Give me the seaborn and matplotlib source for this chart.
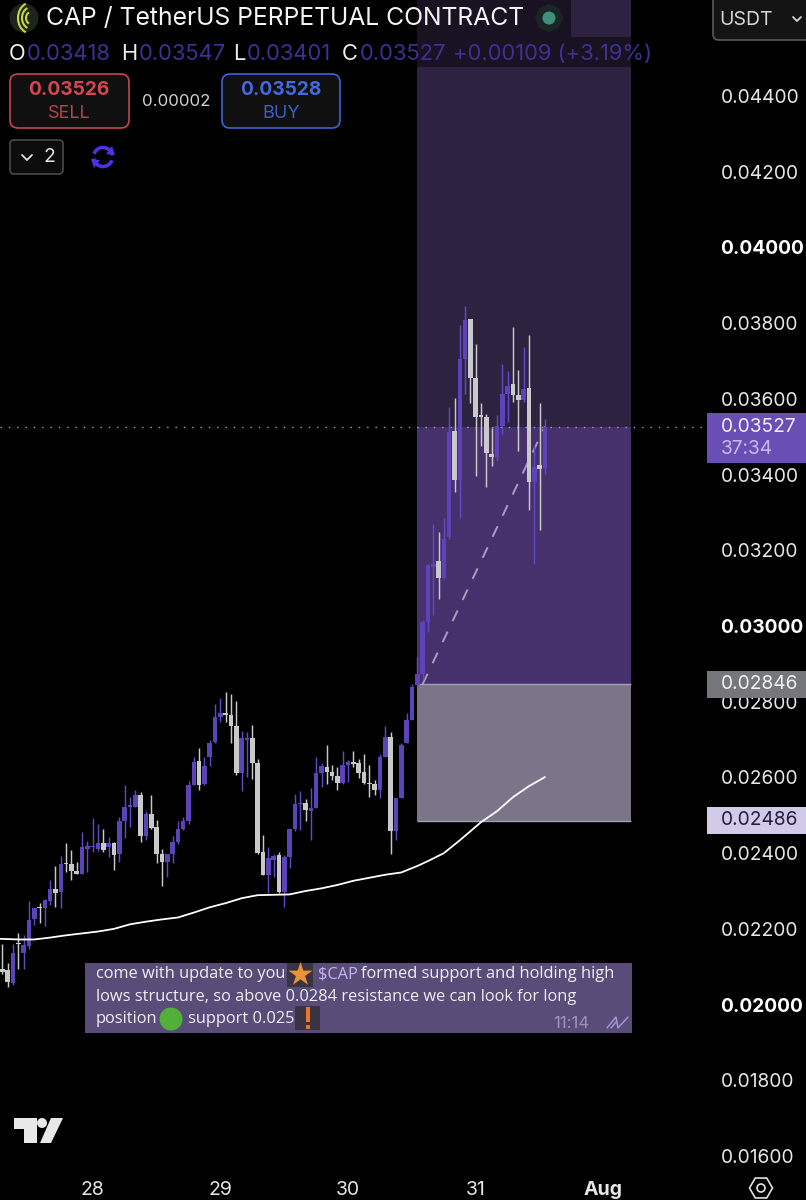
import numpy as np
import pandas as pd
import matplotlib
matplotlib.use("Agg")
import matplotlib.pyplot as plt
from matplotlib.patches import Rectangle, FancyBboxPatch, Circle, Polygon, RegularPolygon, Arc
import seaborn as sns

# hourly candles, prices in units of 0.00001 USDT
opens = [2095,2091,2057,2163,2137,2154,2225,2257,2254,2274,2304,2298,2374,2371,2353,2346,2412,2415,2410,2426,
         2415,2426,2397,2484,2521,2523,2553,2445,2503,2468,2399,2376,2399,2430,2463,2486,2580,2643,2582,2653,
         2694,2759,2769,2765,2736,2611,2700,2703,2637,2404,2342,2383,2395,2298,2390,2463,2530,2533,2512,2518,
         2611,2628,2615,2604,2586,2633,2641,2637,2615,2586,2582,2567,2655,2707,2459,2547,2690,2753,2843,2874,
         3011,3156,3172,3128,3234,3515,3385,3706,3812,3654,3557,3552,3455,3447,3528,3614,3639,3610,3598,3630,
         3381,3424,3418]
highs = [2161,2109,2161,2188,2183,2274,2254,2269,2280,2330,2366,2392,2427,2408,2377,2456,2432,2492,2478,2465,
         2443,2430,2496,2580,2549,2568,2562,2512,2553,2487,2412,2399,2445,2486,2496,2591,2653,2678,2655,2700,
         2793,2810,2826,2820,2803,2723,2721,2738,2650,2448,2417,2399,2404,2395,2465,2556,2565,2542,2571,2655,
         2637,2685,2633,2628,2670,2646,2670,2648,2661,2634,2593,2663,2736,2721,2547,2690,2769,2848,2918,3017,
         3165,3270,3249,3284,3579,3603,3795,3845,3812,3744,3588,3559,3524,3557,3693,3673,3790,3677,3737,3768,
         3477,3589,3547]
lows = [2082,2047,2051,2095,2093,2146,2210,2216,2207,2263,2258,2256,2351,2329,2345,2345,2351,2404,2406,2404,
        2390,2355,2377,2439,2470,2523,2430,2434,2465,2373,2313,2338,2373,2424,2461,2478,2580,2567,2580,2630,
        2692,2747,2747,2692,2606,2565,2602,2597,2399,2342,2294,2338,2295,2257,2362,2459,2461,2485,2436,2518,
        2575,2582,2593,2567,2582,2589,2628,2599,2582,2549,2553,2545,2655,2399,2436,2547,2690,2751,2839,2857,
        2984,3028,3072,3125,3231,3354,3284,3614,3589,3396,3475,3366,3422,3436,3507,3539,3592,3462,3592,3306,
        3165,3253,3401]
closes = [2087,2060,2135,2160,2157,2223,2254,2254,2276,2304,2295,2371,2372,2353,2346,2415,2419,2419,2426,2408,
          2426,2395,2484,2522,2527,2553,2446,2503,2467,2399,2376,2397,2430,2463,2486,2580,2641,2580,2630,2690,
          2759,2769,2766,2736,2611,2703,2705,2637,2401,2342,2386,2392,2298,2389,2463,2530,2533,2514,2518,2611,
          2630,2615,2604,2586,2633,2641,2635,2612,2584,2582,2567,2655,2706,2459,2547,2687,2753,2840,2874,3011,
          3160,3165,3128,3231,3513,3385,3706,3808,3654,3552,3552,3457,3447,3528,3614,3633,3610,3598,3627,3381,
          3420,3415,3527]

# moving average sampled along the candle index
ma_index = [-1, 3, 6, 9, 12, 15, 18, 21, 24, 27, 30, 33, 36, 39, 42, 45, 48, 51, 54, 57, 60, 63, 66, 69, 72, 75,
            78, 80, 83, 86, 90, 93, 96, 99, 102]
ma_values = [2174, 2172, 2172, 2177, 2183, 2188, 2193, 2200, 2212, 2219, 2225, 2230, 2243, 2257, 2268, 2281,
             2289, 2290, 2291, 2300, 2307, 2316, 2327, 2335, 2343, 2349, 2366, 2379, 2400, 2434, 2482, 2511,
             2548, 2577, 2601]

# long position tool
ENTRY_PRICE = 0.02846
STOP_PRICE = 0.02486
LAST_PRICE = 0.03527
TARGET_PRICE = 0.0480
POSITION_START = 78
POSITION_END = 118.2
ENTRY_BAR = 79
LAST_BAR = 102

price_ticks = [0.016, 0.018, 0.020, 0.022, 0.024, 0.026, 0.028, 0.030, 0.032, 0.034,
               0.036, 0.038, 0.040, 0.042, 0.044]
bold_prices = [0.020, 0.030, 0.040]
date_ticks = [17, 41, 65, 89, 113]
date_labels = ["28", "29", "30", "31", "Aug"]

PURPLE = "#5c44b8"
WICK_PURPLE = "#6149c4"
GREY = "#c9c9c9"

sns.set_theme(style="dark", rc={
    "figure.facecolor": "black", "axes.facecolor": "black", "savefig.facecolor": "black",
    "axes.grid": False, "xtick.bottom": False, "ytick.left": False,
})
plt.rcParams["font.family"] = ["Inter", "DejaVu Sans"]

candles = pd.DataFrame({"open": opens, "high": highs, "low": lows, "close": closes}) / 1e5
candles["bar"] = np.arange(len(candles))
candles["up"] = candles["close"] >= candles["open"]
ma = pd.DataFrame({"bar": ma_index, "price": np.array(ma_values) / 1e5})

fig = plt.figure(figsize=(8.06, 12), dpi=100)
ax = fig.add_axes([0, 0, 1, 1])
ax.set_xlim(-0.432, 151.07)
ax.set_ylim(0.014838, 0.046536)

# position zones
ax.fill_between([POSITION_START, POSITION_END], LAST_PRICE, TARGET_PRICE, color="#2d2240", lw=0, zorder=1)
ax.fill_between([POSITION_START, POSITION_END], ENTRY_PRICE, LAST_PRICE, color="#47316d", lw=0, zorder=1)
ax.fill_between([POSITION_START, POSITION_END], STOP_PRICE, ENTRY_PRICE, color="#7b7589", lw=0, zorder=1)
ax.hlines([ENTRY_PRICE, STOP_PRICE], POSITION_START, POSITION_END, color="#a59fb4", lw=1, zorder=1.5)

# last price line and the dashed connection from the entry
ax.hlines(LAST_PRICE, -0.432, 132.3, color="#a79ac8", lw=1, linestyles=(0, (1, 5)), zorder=1.6)
sns.lineplot(x=[ENTRY_BAR, LAST_BAR], y=[ENTRY_PRICE, LAST_PRICE], ax=ax, color="#a79fbd",
             lw=1.4, linestyle=(0, (6, 6)), zorder=2, errorbar=None, estimator=None, sort=False)

# candles
for is_up, wick_color, body_color in [(True, WICK_PURPLE, PURPLE), (False, GREY, GREY)]:
    part = candles[candles["up"] == is_up]
    ax.vlines(part["bar"], part["low"], part["high"], color=wick_color, lw=1.05, zorder=3)
    ax.bar(part["bar"], (part["close"] - part["open"]).abs().clip(lower=0.00003),
           bottom=part[["open", "close"]].min(axis=1), width=0.86, color=body_color, lw=0, zorder=3)

# moving average
sns.lineplot(data=ma, x="bar", y="price", ax=ax, color="white", lw=1.3, zorder=4,
             errorbar=None, estimator=None, sort=False)

ax.set_xlabel("")
ax.set_ylabel("")
for side in ax.spines.values():
    side.set_visible(False)

ax.yaxis.tick_right()
ax.set_yticks(price_ticks)
ax.set_yticklabels([f"{p:.5f}" for p in price_ticks])
ax.tick_params(axis="y", length=0, pad=-61.5, labelsize=13.8, labelcolor="#e6e6e6")
for label_artist, price in zip(ax.get_yticklabels(), price_ticks):
    label_artist.set_ha("left")
    if price in bold_prices:
        label_artist.set_fontweight("bold")
        label_artist.set_color("white")
ax.set_xticks(date_ticks)
ax.set_xticklabels(date_labels)
ax.tick_params(axis="x", length=0, pad=-14, labelsize=14, labelcolor="#e6e6e6")
ax.get_xticklabels()[-1].set_fontweight("bold")

# interface layer, laid out in screen pixels
ui = fig.add_axes([0, 0, 1, 1], facecolor="none")
ui.set_xlim(0, 806)
ui.set_ylim(1200, 0)
ui.axis("off")


def rounded(x0, y0, x1, y1, edge, face="#101010", lw=1.2, radius=8):
    ui.add_patch(FancyBboxPatch((x0 + radius, y0 + radius), x1 - x0 - 2 * radius, y1 - y0 - 2 * radius,
                                boxstyle=f"round,pad={radius},rounding_size={radius}",
                                edgecolor=edge, facecolor=face, lw=lw))


def label(x, y, text, color="white", size=13.8, ha="left", **kw):
    ui.text(x, y, text, color=color, fontsize=size, ha=ha, va="center", **kw)


# header dimming
ui.add_patch(Rectangle((0, 0), 571, 37, color="black", alpha=0.45, lw=0))
ui.add_patch(Rectangle((0, 37), 632, 30, color="black", alpha=0.45, lw=0))

# symbol logo and title
ui.add_patch(Circle((24, 18), 14.5, color="#1d251c", lw=0))
for r in (5, 9, 13):
    ui.add_patch(Arc((31, 18), 2 * r, 2.4 * r, theta1=110, theta2=250, color="#c9d838", lw=1.5))
label(46, 19, "CAP / TetherUS PERPETUAL CONTRACT", size=17.8, color="#f4f4f4")
ui.add_patch(RegularPolygon((549, 18), 8, radius=14, color="#1a2624", lw=0))
ui.add_patch(Circle((549, 18), 6.5, color="#3f8f7f", lw=0))

# OHLC readout
NUM = "#3e3192"
for x, text, color in [(9, "O", "#eeeeee"), (27, "0.03418", NUM), (121, "H", "#eeeeee"), (139, "0.03547", NUM),
                       (233, "L", "#eeeeee"), (247, "0.03401", NUM), (342, "C", "#eeeeee"), (360, "0.03527", NUM),
                       (453, "+0.00109 (+3.19%)", NUM)]:
    label(x, 54, text, color=color, size=15.8)

# order buttons
rounded(10, 74, 129, 128, "#c2474e")
label(69, 90, "0.03526", color="#d5474f", size=13.8, ha="center", fontweight="bold")
label(69, 113, "SELL", color="#b4434a", size=13, ha="center")
label(176, 101, "0.00002", color="#d2d2d2", size=12.2, ha="center")
rounded(222, 74, 340, 128, "#3e62d6")
label(281, 90, "0.03528", color="#4569dd", size=13.8, ha="center", fontweight="bold")
label(281, 113, "BUY", color="#3f5fc6", size=13, ha="center")

# collapsed indicators button
rounded(10, 140, 63, 174, "#4a4a4a", face="#0c0c0c", radius=4)
ui.plot([22, 27, 32], [155, 160, 155], color="#e0e0e0", lw=1.3)
label(49, 157, "2", color="#e0e0e0", size=14, ha="center")

# sync icon
for start, end in [(20, 170), (200, 350)]:
    ui.add_patch(Arc((103, 157), 19, 19, theta1=start, theta2=end, color="#4f30e6", lw=2.6))
ui.add_patch(Polygon([(112, 146), (115, 155), (106, 154)], color="#4f30e6", lw=0))
ui.add_patch(Polygon([(94, 168), (91, 159), (100, 160)], color="#4f30e6", lw=0))

# currency selector
rounded(713, -10, 820, 40, "#5a5a5a", face="#141414", radius=6)
label(719, 20, "USDT", color="#d6d6d6", size=14)
ui.plot([793, 797, 801], [17, 21, 17], color="#d6d6d6", lw=1.3)

# price tags on the scale
ui.add_patch(Rectangle((707, 413), 99, 50, color="#694eb6", lw=0))
label(721, 427, "0.03527", color="#f2effa")
label(721, 449, "37:34", color="#c6bbe6")
ui.add_patch(Rectangle((707, 671), 99, 27, color="#75777b", lw=0))
label(721, 684, "0.02846", color="#f2f2f2")
ui.add_patch(Rectangle((707, 807), 99, 27, color="#d2cbe8", lw=0))
label(721, 820, "0.02486", color="#24203a")

# chat message
ui.add_patch(Rectangle((85, 963), 547, 70, color="#594c78", lw=0))
MSG = {"size": 11.8, "family": ["Open Sans", "DejaVu Sans"]}
label(96, 974, "come with update to you", color="#f0eef5", **MSG)
label(318, 974, "$CAP", color="#c4b2f2", **MSG)
label(361, 974, "formed support and holding high", color="#f0eef5", **MSG)
label(96, 997, "lows structure, so above 0.0284 resistance we can look for long", color="#f0eef5", **MSG)
label(96, 1019, "position", color="#f0eef5", **MSG)
label(188, 1019, "support 0.025", color="#f0eef5", **MSG)
label(553, 1024, "11:14", color="#9d93b8", size=12)
ui.plot([607, 616, 618, 628], [1028, 1017, 1028, 1017], color="#a79be0", lw=1)
ui.plot([611, 616], [1028, 1022], color="#a79be0", lw=1)

ui.add_patch(Rectangle((287, 963), 26, 24, color="#3a3442", lw=0))
ui.scatter([300], [974], marker="*", s=330, color="#e8933a", lw=0, zorder=5)
ui.add_patch(Circle((171, 1019), 11.5, color="#52b038", lw=0))
ui.add_patch(Rectangle((295, 1006), 25, 24, color="#3a3442", lw=0))
ui.add_patch(Rectangle((305.5, 1007), 4, 15, color="#e8772e", lw=0))
ui.add_patch(Rectangle((305.5, 1025), 4, 4, color="#e8772e", lw=0))

# platform mark
LOGO = "#e8e8e8"
ui.add_patch(Polygon([(14, 1118), (37, 1118), (37, 1143), (24, 1143), (24, 1129), (14, 1129)], color=LOGO, lw=0))
ui.add_patch(Circle((42, 1123), 5, color=LOGO, lw=0))
ui.add_patch(Polygon([(51, 1118), (63, 1118), (51, 1143), (40, 1143)], color=LOGO, lw=0))

# settings icon
ui.add_patch(RegularPolygon((761, 1188), 6, radius=11.5, orientation=np.pi / 6, fill=False, edgecolor="#e0e0e0", lw=1.2))
ui.add_patch(Circle((761, 1188), 4, fill=False, edgecolor="#e0e0e0", lw=1.2))

fig.savefig("out.png", dpi=100, facecolor="black")
